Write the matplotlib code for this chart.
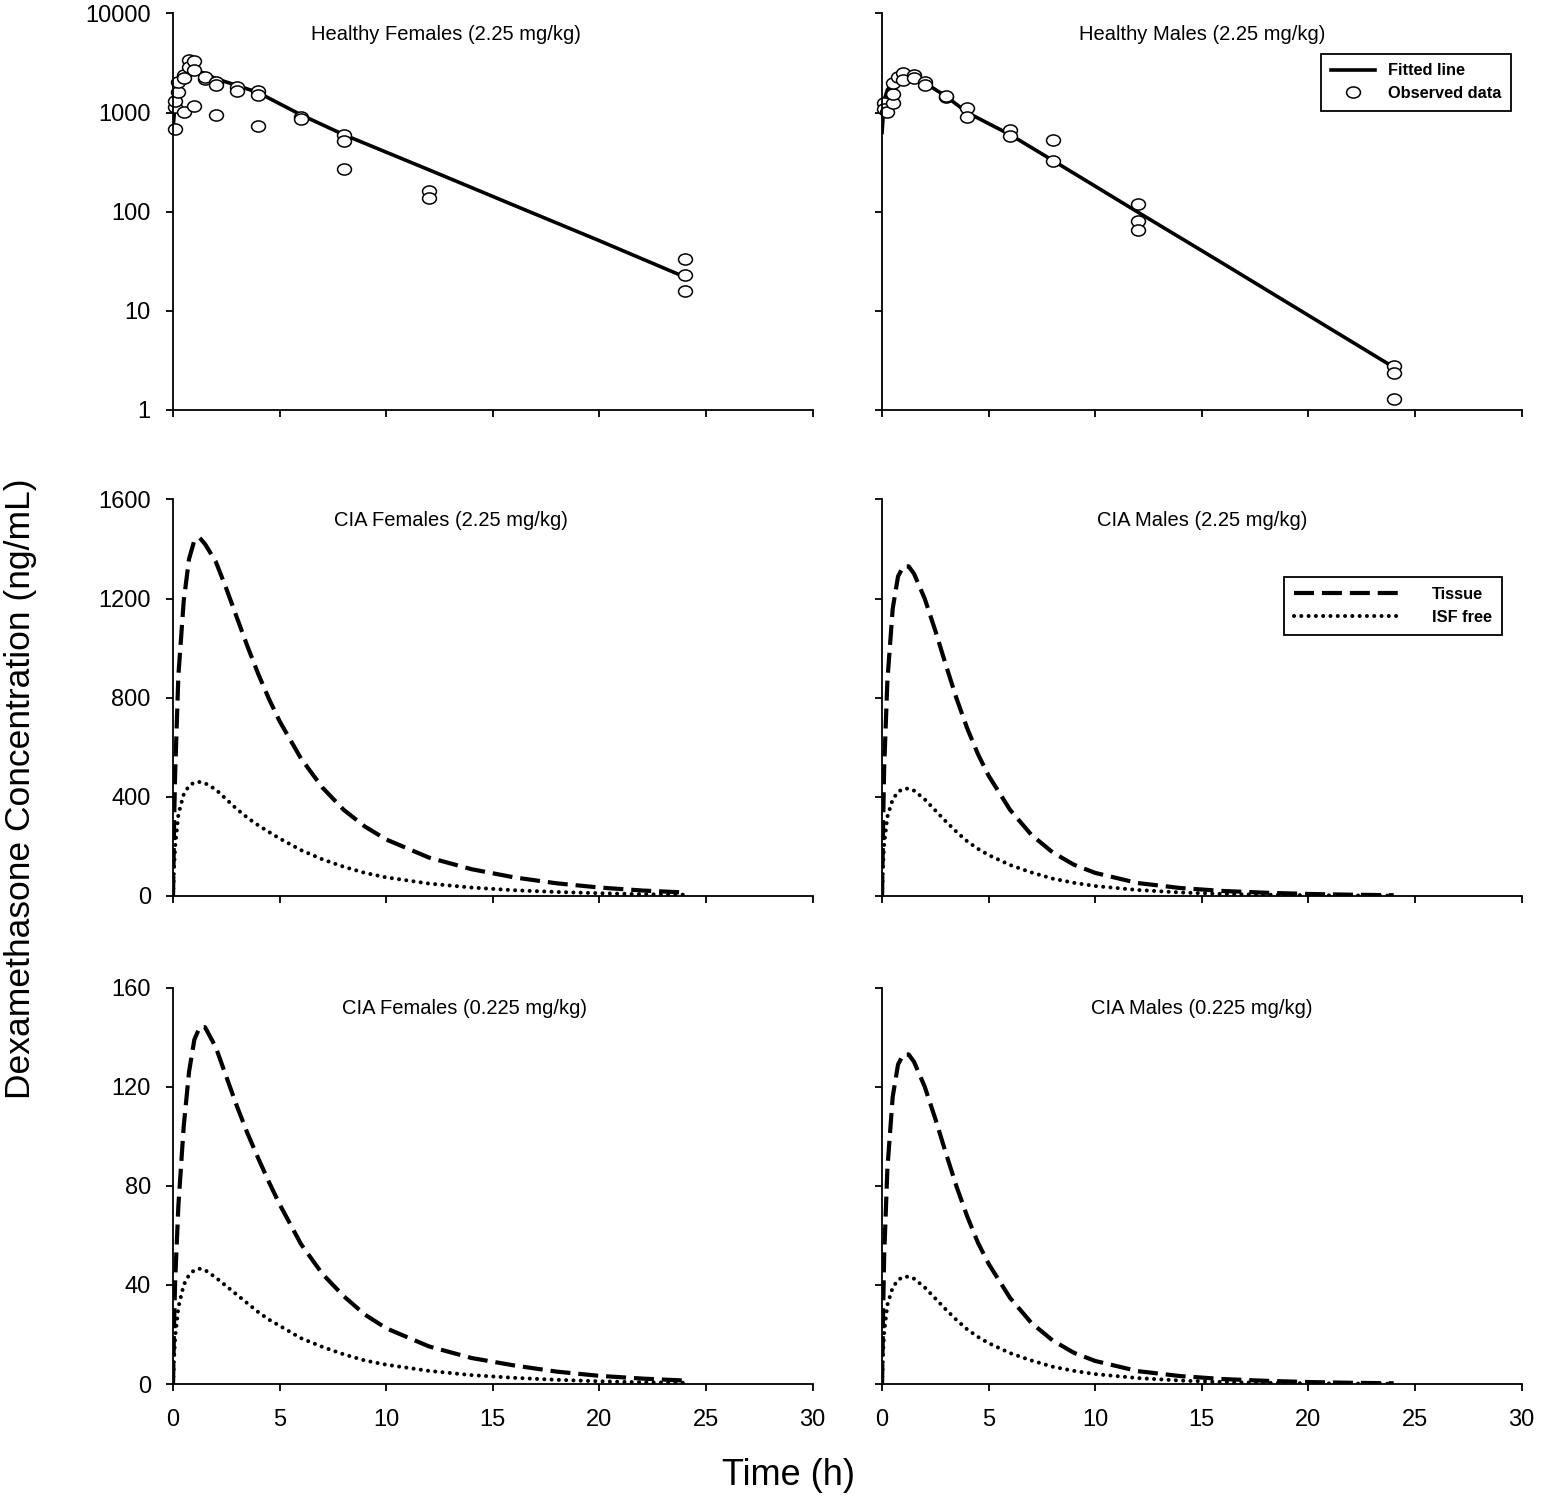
import matplotlib.pyplot as plt
from matplotlib.path import Path

plt.rcParams['font.family'] = ['Liberation Sans', 'DejaVu Sans']

# ---- healthy rats (log scale): observed data and fitted line ----
hf_obs_t = [0.083, 0.083, 0.083, 0.25, 0.25, 0.5, 0.5, 0.5, 0.75, 0.75, 1, 1, 1,
            1.5, 1.5, 2, 2, 2, 3, 3, 4, 4, 4, 6, 6, 8, 8, 8, 12, 12, 24, 24, 24]
hf_obs_c = [690, 1150, 1320, 1630, 2050, 2420, 1025, 2250, 3430, 2900, 3300, 2700, 1170,
            2200, 2300, 2050, 1920, 940, 1830, 1670, 1670, 1520, 740, 910, 870,
            600, 520, 270, 162, 138, 33.5, 23, 16]
hf_fit_t = [0, 0.1, 0.25, 0.5, 0.75, 1, 1.25, 1.5, 2, 3, 4, 6, 8, 12, 16, 20, 24]
hf_fit_c = [680, 1300, 1800, 2250, 2500, 2600, 2580, 2480, 2200, 1880, 1590, 950, 600,
            265, 116, 51, 22]

hm_obs_t = [0.083, 0.083, 0.25, 0.5, 0.5, 0.5, 0.75, 1, 1, 1.5, 1.5, 2, 2, 3, 3,
            4, 4, 6, 6, 8, 8, 12, 12, 12, 24, 24, 24]
hm_obs_c = [1260, 1100, 1020, 1260, 1550, 2000, 2300, 2530, 2150, 2420, 2250, 2050, 1920,
            1450, 1480, 1120, 910, 675, 575, 525, 327, 120, 81, 65, 2.78, 2.34, 1.29]
hm_fit_t = [0, 0.1, 0.25, 0.5, 0.75, 1, 1.25, 1.5, 2, 3, 4, 6, 8, 12, 16, 20, 24]
hm_fit_c = [630, 1350, 1700, 2000, 2180, 2270, 2290, 2250, 2000, 1460, 1000, 600, 330,
            99, 30, 9, 2.7]

# ---- CIA rats: simulated tissue and ISF free concentrations ----
sim_t = [0, 0.05, 0.1, 0.25, 0.5, 0.75, 1.0, 1.25, 1.5, 2, 2.5, 3, 3.5, 4, 4.5, 5,
         6, 7, 8, 9, 10, 12, 14, 16, 18, 20, 22, 24]

cf_hi_tissue = [0, 300, 500, 890, 1190, 1360, 1435, 1445, 1420, 1350, 1240, 1122, 1005,
                895, 795, 705, 555, 438, 348, 280, 228, 155, 108, 75, 51, 34, 22, 14]
cf_hi_isf = [0, 120, 200, 330, 410, 445, 458, 460, 455, 430, 390, 350, 315, 285, 258,
             232, 185, 148, 118, 93, 75, 50, 34, 23, 16, 11, 7, 5]
cm_hi_tissue = [0, 300, 520, 870, 1160, 1290, 1330, 1330, 1300, 1200, 1070, 930, 795,
                675, 572, 485, 348, 247, 176, 126, 93, 52, 32, 20, 13, 8, 5, 3]
cm_hi_isf = [0, 130, 210, 320, 390, 420, 433, 433, 425, 390, 345, 300, 258, 220, 190,
             165, 125, 95, 70, 53, 40, 24, 14, 8, 5, 3, 2, 1]

cf_lo_tissue = [0, 25, 42, 72, 104, 126, 139, 144, 144, 136, 124, 112, 101, 91, 81.5, 72.5,
                56.5, 44.5, 35.5, 28, 22.5, 15.2, 10.5, 7.5, 5, 3.3, 2.2, 1.4]
cf_lo_isf = [0, 11, 19, 31, 40, 44, 46, 46.5, 46, 43, 39.5, 36, 32.5, 29, 26, 23.5,
             18.5, 15, 12, 9.5, 7.8, 5.3, 3.6, 2.5, 1.7, 1.1, 0.7, 0.5]
cm_lo_tissue = [0, 30, 52, 87, 116, 129, 133, 133, 130, 120, 107, 93, 79.5, 67.5, 57, 48.5,
                34.8, 24.7, 17.6, 12.6, 9.3, 5.2, 3.2, 2, 1.3, 0.8, 0.5, 0.3]
cm_lo_isf = [0, 13, 21, 32, 39, 42, 43.3, 43.3, 42.5, 39, 34.5, 30, 25.8, 22, 19, 16.5,
             12.5, 9.5, 7, 5.3, 4, 2.4, 1.4, 0.8, 0.5, 0.3, 0.2, 0.1]

titles = [["Healthy Females (2.25 mg/kg)", "Healthy Males (2.25 mg/kg)"],
          ["CIA Females (2.25 mg/kg)", "CIA Males (2.25 mg/kg)"],
          ["CIA Females (0.225 mg/kg)", "CIA Males (0.225 mg/kg)"]]
title_x = [[0.426, 0.5], [0.435, 0.5], [0.455, 0.5]]
x_ticks = [0, 5, 10, 15, 20, 25, 30]

# slightly wide open circle, like the original markers
circ = Path.unit_circle()
ellipse = Path(circ.vertices * [1.25, 1.0], circ.codes)

fig = plt.figure(figsize=(15.41, 14.99), dpi=100)
col_x = [0.1123, 0.5724]
col_w = 0.4150
row_y = [0.7265, 0.4023, 0.0767]
row_h = 0.2645

axes = [[fig.add_axes([col_x[c], row_y[r], col_w, row_h]) for c in range(2)] for r in range(3)]

dash_style = dict(color='black', lw=3.0, linestyle=(0, (4.8, 1.9)))
dot_style = dict(color='black', lw=2.9, linestyle=(0, (0.01, 1.8)), dash_capstyle='round')

for (ax, obs_t, obs_c, fit_t, fit_c) in [(axes[0][0], hf_obs_t, hf_obs_c, hf_fit_t, hf_fit_c),
                                         (axes[0][1], hm_obs_t, hm_obs_c, hm_fit_t, hm_fit_c)]:
    ax.set_yscale('log')
    ax.plot(fit_t, fit_c, color='black', lw=2.6, label='Fitted line')
    ax.plot(obs_t, obs_c, ls='none', marker=ellipse, ms=10, mfc='white', mec='black',
            mew=1.1, clip_on=False, label='Observed data')
    ax.set_ylim(1, 10000)
    ax.set_yticks([1, 10, 100, 1000, 10000])
    ax.set_yticklabels(['1', '10', '100', '1000', '10000'])
    ax.minorticks_off()

panels = [(axes[1][0], cf_hi_tissue, cf_hi_isf, 1600),
          (axes[1][1], cm_hi_tissue, cm_hi_isf, 1600),
          (axes[2][0], cf_lo_tissue, cf_lo_isf, 160),
          (axes[2][1], cm_lo_tissue, cm_lo_isf, 160)]
for ax, tissue, isf, ymax in panels:
    ax.plot(sim_t, tissue, label='Tissue', **dash_style)
    ax.plot(sim_t, isf, label='ISF free', **dot_style)
    ax.set_ylim(0, ymax)
    ax.set_yticks([ymax * k / 4 for k in range(5)])
    ax.set_yticklabels([str(int(ymax * k / 4)) for k in range(5)])

for r in range(3):
    for c in range(2):
        ax = axes[r][c]
        ax.set_xlim(0, 30)
        ax.set_xticks(x_ticks)
        ax.spines['top'].set_visible(False)
        ax.spines['right'].set_visible(False)
        for s in ('left', 'bottom'):
            ax.spines[s].set_linewidth(1.3)
        ax.tick_params(direction='out', length=5, width=1.3, labelsize=17)
        ax.tick_params(axis='x', pad=13)
        ax.tick_params(axis='y', pad=11)
        if r < 2:
            ax.tick_params(axis='x', labelbottom=False)
        if c == 1:
            ax.tick_params(axis='y', labelleft=False)
        ax.text(title_x[r][c], 0.948, titles[r][c], transform=ax.transAxes,
                ha='center', va='center', fontsize=14.5)

leg1 = axes[0][1].legend(loc='upper left', bbox_to_anchor=(0.686, 0.899), borderaxespad=0,
                         handlelength=2.7, handletextpad=0.8, borderpad=0.6, labelspacing=0.45,
                         numpoints=1, fancybox=False, edgecolor='black', framealpha=1,
                         prop={'weight': 'bold', 'size': 11.8})
leg1.get_frame().set_linewidth(1.3)

leg2 = axes[1][1].legend(loc='upper left', bbox_to_anchor=(0.629, 0.804), borderaxespad=0,
                         handlelength=6.4, handletextpad=2.0, borderpad=0.6, labelspacing=0.5,
                         fancybox=False, edgecolor='black', framealpha=1,
                         prop={'weight': 'bold', 'size': 11.8})
leg2.get_frame().set_linewidth(1.3)

fig.text(0.512, 0.016, "Time (h)", ha='center', va='center', fontsize=26)
fig.text(0.013, 0.474, "Dexamethasone Concentration (ng/mL)", ha='center', va='center',
         rotation=90, fontsize=25.5)

fig.savefig('out.png', dpi=100)
